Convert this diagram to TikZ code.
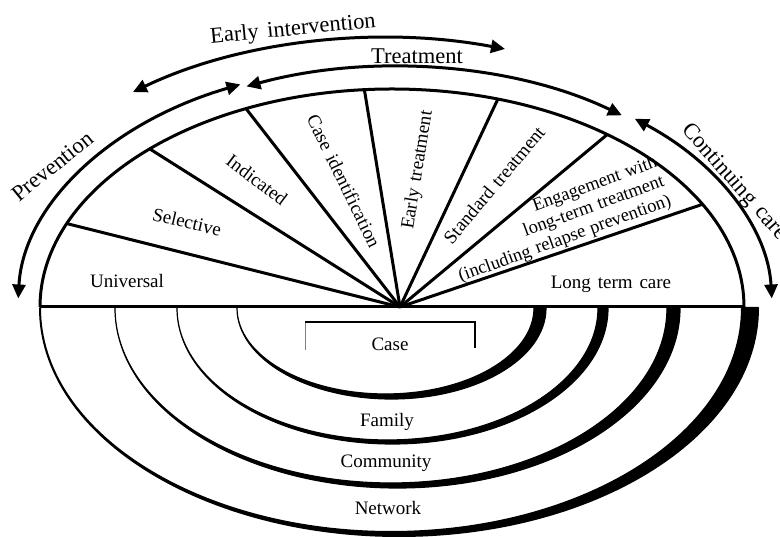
\documentclass[tikz,border=0pt]{standalone}
\usepackage{fontspec}
\setmainfont{Liberation Serif}
\usetikzlibrary{arrows.meta}
\begin{document}
\begin{tikzpicture}[x=1pt,y=1pt,
  main/.style={line width=3pt},
  dbl/.style={line width=3pt,{Triangle[length=14pt,width=13pt]}-{Triangle[length=14pt,width=13pt]}},
  biglbl/.style={font=\fontsize{22.5}{26}\selectfont, inner sep=0pt, execute at begin node={\spaceskip=.38em plus .1em minus .05em\relax}},
  lbl/.style={font=\fontsize{19}{21}\selectfont, inner sep=0pt, execute at begin node={\spaceskip=.36em plus .1em minus .05em\relax}},
  smlbl/.style={font=\fontsize{18.5}{20.5}\selectfont, inner sep=0pt, execute at begin node={\spaceskip=.3em plus .1em minus .05em\relax}},
  ring/.style={fill=black, line width=1.2pt, line join=round},
]
\useasboundingbox (0,0) rectangle (780,537);
\coordinate (hub) at (400,230);
\coordinate (mc) at (392,230);
\coordinate (oc) at (395,230);
\coordinate (ec) at (386,229);
\coordinate (bl) at (40,230);
\coordinate (br) at (744,230);

% upper half ellipse and base line
\draw[main] ([shift={(180:352 and 218)}]mc) arc[start angle=180,end angle=0,x radius=352,y radius=218];
\draw[main] (bl) -- (br);

% fan dividers
\foreach \a in {157.5,133.5,114.5,94.5,72.5,52.3,28.1}
  \draw[main] (hub) -- ([shift={(\a:352 and 218)}]mc);

% arrows
\draw[dbl] ([shift={(178:377 and 244)}]oc) arc[start angle=178,end angle=114.2,x radius=377,y radius=244];
\draw[dbl] ([shift={(113.2:377 and 240)}]oc) arc[start angle=113.2,end angle=53,x radius=377,y radius=240];
\draw[dbl] ([shift={(50.5:377 and 244)}]oc) arc[start angle=50.5,end angle=2,x radius=377,y radius=244];
\draw[dbl] ([shift={(126.9:421.5 and 270)}]ec) arc[start angle=126.9,end angle=73.6,x radius=421.5,y radius=270];

% lower rings
\filldraw[ring] (237,229) arc[start angle=180,end angle=360,x radius=154.5,y radius=91] -- (534,229) arc[start angle=0,end angle=-180,x radius=148.5,y radius=86] -- cycle;
\filldraw[ring] (177,229) arc[start angle=180,end angle=360,x radius=215.5,y radius=136] -- (598,229) arc[start angle=0,end angle=-180,x radius=210.5,y radius=132] -- cycle;
\filldraw[ring] (115,229) arc[start angle=180,end angle=360,x radius=282.5,y radius=180] -- (667,229) arc[start angle=0,end angle=-180,x radius=276,y radius=175] -- cycle;
\filldraw[ring, line width=2pt] (40,229) arc[start angle=180,end angle=360,x radius=359,y radius=228] -- (742,229) arc[start angle=0,end angle=-180,x radius=351,y radius=224] -- cycle;

% case tab
\draw[gray, line width=0.8pt] (305,187) -- (305,215);
\draw[line width=1.5pt] (305,215) -- (475,215) -- (475,189);

% outer labels
\node[biglbl, rotate=5.5] (lei) at (293,507) {Early intervention};
\node[biglbl] (ltr) at (417,481) {Treatment};
\node[biglbl, rotate=39] (lpr) at (52.5,371) {Prevention};
\node[biglbl, rotate=-48.5] (lcc) at (734,354.5) {Continuing care};

% fan labels
\node[lbl] (lun) at (127,256) {Universal};
\node[lbl, rotate=-13] (lse) at (187,315) {Selective};
\node[lbl, rotate=-37] (lin) at (257,357) {Indicated};
\node[lbl, rotate=-64] (lci) at (344,356) {Case identification};
\node[lbl, rotate=81] (let) at (418,367) {Early treatment};
\node[lbl, rotate=50] (lst) at (494,352) {Standard treatment};
\node[smlbl, rotate=20, align=right] (len) at (558,317) {Engagement with\\long-term treatment\\(including relapse prevention)};
\node[lbl] (llt) at (611,253) {Long term care};

% ring labels
\node[lbl] (lca) at (390,193) {Case};
\node[lbl] (lfa) at (387,115) {Family};
\node[lbl] (lco) at (386,74) {Community};
\node[lbl] (lne) at (388,29) {Network};
\end{tikzpicture}
\end{document}
